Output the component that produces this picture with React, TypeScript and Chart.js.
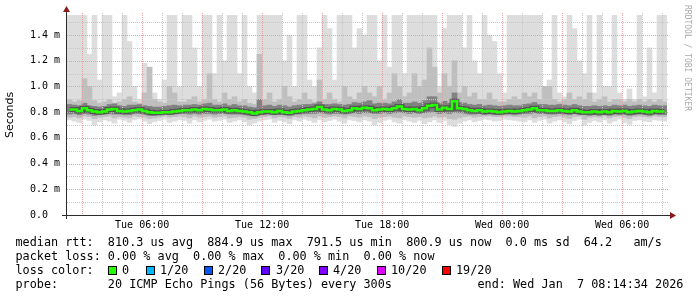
import React, { useEffect, useRef } from "react";
import { Chart, registerables } from "chart.js";
Chart.register(...registerables);

// ---- time axis (hours since Tue 00:00) ----
const START_H = 2 + 14 / 60 + 34 / 3600; // Tue 02:14:34
const END_H = 32 + 14 / 60 + 34 / 3600; // Wed 08:14:34
const STEP_H = 0.25;

const xTickHours = [6, 12, 18, 24, 30];
const xTickLabels = ["Tue 06:00", "Tue 12:00", "Tue 18:00", "Wed 00:00", "Wed 06:00"];
const yTickValues = [0, 200, 400, 600, 800, 1000, 1200, 1400];
const yTickLabels = ["0.0  ", "0.2 m", "0.4 m", "0.6 m", "0.8 m", "1.0 m", "1.2 m", "1.4 m"];

// ---- series values, microseconds ----
const T = 2000; // off-scale top
const maxRtt = [
  T, T, T, T, 1250, T, 1050, T, T, 920,
  950, T, 1350, 1000, 900, 1180, 1150, 950, 900, 1050,
  T, T, 1000, T, T, 1300, 1000, T, T, 1100,
  T, 1200, T, T, 1100, T, 1000, 950, T, T,
  T, T, T, 1200, 1400, 1000, T, T, 1050, 1000,
  1300, T, 1450, 1050, T, T, T, 1300, 1450, 1400,
  T, T, 1200, T, 1150, T, T, 1100, T, T,
  T, T, T, T, 1000, 1450, T, T, T, 1300,
  T, 1200, 1100, T, 1400, 1350, 1100, 950, T, T,
  T, T, T, T, T, 1000, 1050, T, 950, 920,
  T, 1450, 1200, 1100, T, 950, T, 1000, 1000, T,
  950, 900, 980, 900, T, 920, 1300, 950, T, T,
];
const minRtt = [
  740, 730, 720, 745, 735, 700, 725, 740, 730, 715, 745, 735, 720, 740, 750, 730, 710, 725, 735, 745, 720, 730, 740, 735, 715, 740, 725, 735, 745, 730,
  735, 745, 720, 730, 740, 725, 700, 715, 730, 740, 745, 720, 735, 725, 710, 740, 730, 745, 735, 720, 740, 725, 735, 745, 730, 715, 740, 735, 725, 740,
  730, 700, 720, 735, 745, 725, 715, 740, 730, 720, 735, 710, 725, 740, 720, 735, 700, 690, 715, 730, 740, 725, 735, 745, 740, 730, 735, 745, 740, 735,
  730, 725, 740, 720, 735, 745, 715, 730, 740, 725, 710, 735, 745, 700, 720, 735, 725, 740, 715, 730, 745, 720, 705, 735, 740, 730, 725, 740, 735, 730,
];
const lowRtt = [
  760, 765, 755, 770, 765, 750, 760, 765, 770, 755, 765, 760, 755, 770, 765, 760, 750, 755, 760, 770, 760, 765, 770, 765, 755, 770, 760, 765, 770, 760,
  765, 770, 755, 760, 765, 760, 745, 750, 760, 765, 770, 755, 765, 760, 750, 765, 760, 770, 765, 755, 770, 760, 765, 770, 765, 755, 770, 765, 760, 770,
  765, 750, 760, 765, 770, 760, 755, 770, 765, 760, 765, 755, 760, 770, 760, 765, 750, 745, 755, 765, 770, 760, 765, 770, 770, 765, 765, 770, 770, 765,
  765, 760, 770, 755, 765, 770, 755, 765, 770, 760, 750, 765, 770, 745, 760, 765, 760, 770, 755, 765, 770, 760, 750, 765, 770, 765, 760, 770, 765, 765,
];
const highRtt = [
  900, 880, 890, 1060, 1000, 890, 870, 880, 900, 870, 880, 900, 920, 880, 870, 950, 1150, 900, 880, 870, 1000, 950, 880, 880, 900, 920, 880, 900, 1100, 900,
  880, 950, 900, 920, 880, 900, 870, 860, 1250, 900, 950, 880, 900, 1000, 920, 880, 900, 950, 900, 880, 1050, 900, 950, 900, 880, 1000, 920, 900, 950, 1000,
  950, 920, 1000, 900, 950, 1100, 1000, 920, 950, 1100, 1000, 1050, 1300, 1150, 950, 1100, 1000, 1200, 950, 1000, 920, 950, 900, 900, 950, 900, 880, 880, 900, 920,
  900, 950, 920, 950, 900, 1000, 1000, 900, 880, 900, 950, 900, 920, 900, 950, 880, 900, 920, 880, 900, 900, 880, 900, 880, 900, 880, 900, 880, 900, 880,
];
const coreLowRtt = [
  785, 790, 780, 790, 785, 775, 780, 785, 790, 785, 785, 780, 780, 790, 790, 785, 775, 775, 780, 785, 780, 785, 790, 790, 785, 790, 785, 790, 790, 785,
  790, 790, 785, 785, 785, 780, 775, 770, 780, 780, 785, 780, 785, 780, 775, 785, 785, 790, 790, 790, 795, 790, 785, 790, 790, 785, 790, 795, 790, 795,
  795, 790, 790, 795, 790, 795, 800, 795, 790, 795, 790, 795, 800, 805, 790, 795, 790, 800, 795, 790, 785, 785, 790, 780, 785, 780, 780, 785, 785, 780,
  785, 790, 790, 795, 790, 790, 785, 785, 790, 785, 780, 790, 780, 780, 775, 780, 775, 780, 775, 785, 780, 785, 775, 780, 785, 780, 775, 785, 780, 780,
];
const coreHighRtt = [
  860, 855, 850, 870, 850, 845, 840, 845, 860, 865, 850, 845, 855, 855, 860, 850, 845, 840, 840, 845, 850, 855, 850, 855, 855, 860, 855, 865, 870, 855,
  855, 865, 850, 860, 850, 850, 840, 835, 900, 850, 855, 845, 855, 850, 840, 850, 855, 860, 860, 865, 880, 860, 860, 865, 860, 855, 860, 875, 870, 880,
  890, 865, 870, 870, 865, 880, 900, 870, 870, 880, 870, 890, 920, 920, 865, 885, 870, 950, 875, 870, 860, 855, 860, 850, 855, 850, 845, 850, 855, 850,
  850, 860, 865, 875, 860, 860, 855, 855, 860, 855, 850, 860, 850, 845, 845, 850, 845, 850, 845, 855, 850, 855, 845, 850, 855, 850, 845, 855, 850, 850,
];
const medianRtt = [
  820, 820, 810, 830, 815, 805, 800, 805, 820, 825, 810, 805, 810, 815, 820, 810, 800, 795, 795, 800, 800, 805, 810, 815, 815, 820, 815, 825, 820, 815,
  815, 820, 810, 815, 810, 805, 800, 790, 800, 805, 805, 800, 810, 800, 795, 805, 810, 815, 820, 825, 840, 820, 815, 825, 820, 810, 815, 830, 825, 835,
  830, 815, 820, 825, 820, 830, 845, 825, 820, 825, 815, 830, 850, 855, 820, 835, 825, 885, 830, 825, 815, 810, 815, 805, 810, 805, 800, 805, 810, 805,
  810, 815, 820, 830, 815, 815, 810, 810, 815, 810, 805, 815, 805, 800, 800, 805, 800, 805, 800, 810, 805, 810, 800, 805, 810, 805, 800, 810, 805, 805,
];

// ---- legend text ----
const statLines = [
  "median rtt:  810.3 us avg  884.9 us max  791.5 us min  800.9 us now  0.0 ms sd  64.2   am/s",
  "packet loss: 0.00 % avg  0.00 % max  0.00 % min  0.00 % now",
];
const lossTitle = "loss color:";
const lossLabels = ["0", "1/20", "2/20", "3/20", "4/20", "10/20", "19/20"];
const lossColors = ["#26ff00", "#00b8ff", "#0059ff", "#5e00ff", "#7e00ff", "#dd00ff", "#ff0000"];
const probeLine = "probe:       20 ICMP Echo Pings (56 Bytes) every 300s";
const endLine = "end: Wed Jan  7 08:14:34 2026";
const watermark = "RRDTOOL / TOBI OETIKER";
const yTitle = "Seconds";

// ---- layout (pixels) ----
const W = 697, H = 297;
const boxX = [108, 146, 204, 261, 319, 377, 442];
const boxTextX = [122, 160, 218, 276, 333, 391, 456];
const MONO = '"DejaVu Sans Mono", monospace';

const Y_MAX = 1556;

function drawGrid(chart: any) {
  const { ctx, chartArea: a, scales } = chart;
  const x = scales.x, y = scales.y;
  ctx.save();
  ctx.lineWidth = 1;
  ctx.setLineDash([1, 1]);
  for (let v = 100; v < Y_MAX; v += 100) {
    const py = Math.round(y.getPixelForValue(v)) + 0.5;
    ctx.strokeStyle = v % 200 === 0 ? "rgb(232,160,160)" : "rgb(200,200,200)";
    ctx.beginPath();
    ctx.moveTo(a.left, py);
    ctx.lineTo(a.right + 2, py);
    ctx.stroke();
  }
  for (let h = Math.ceil(START_H); h <= END_H; h += 1) {
    const px = Math.round(x.getPixelForValue(h)) + 0.5;
    ctx.strokeStyle = h % 3 === 0 ? "rgb(232,160,160)" : "rgb(200,200,200)";
    ctx.beginPath();
    ctx.moveTo(px, a.top - 2);
    ctx.lineTo(px, a.bottom);
    ctx.stroke();
  }
  ctx.restore();
}

const rrdPlugin = {
  id: "rrdDecor",
  beforeDatasetDraw(chart: any, args: any) {
    if (args.index === 1) drawGrid(chart);
  },
  afterDatasetsDraw(chart: any) {
    const { ctx, chartArea: a } = chart;
    ctx.save();
    ctx.setLineDash([]);
    ctx.strokeStyle = "#2c2c2c";
    ctx.lineWidth = 1;
    const by = a.bottom + 0.5;
    const lx = a.left - 0.5;
    ctx.beginPath();
    ctx.moveTo(a.left - 5, by);
    ctx.lineTo(a.right + 4, by);
    ctx.moveTo(lx, a.bottom + 4);
    ctx.lineTo(lx, a.top - 3);
    ctx.stroke();
    ctx.fillStyle = "#8b1a1a";
    ctx.beginPath();
    ctx.moveTo(a.right + 3, by - 3.5);
    ctx.lineTo(a.right + 9, by);
    ctx.lineTo(a.right + 3, by + 3.5);
    ctx.closePath();
    ctx.fill();
    ctx.beginPath();
    ctx.moveTo(lx - 3.5, a.top - 3);
    ctx.lineTo(lx, a.top - 9);
    ctx.lineTo(lx + 3.5, a.top - 3);
    ctx.closePath();
    ctx.fill();
    // watermark
    ctx.translate(687, 5);
    ctx.rotate(Math.PI / 2);
    ctx.font = `8px ${MONO}`;
    ctx.fillStyle = "#aaaaaa";
    ctx.textBaseline = "middle";
    ctx.textAlign = "left";
    ctx.fillText(watermark, 0, 0);
    ctx.restore();
  },
};

export default function App() {
  const ref = useRef<HTMLCanvasElement>(null);
  useEffect(() => {
    document.body.style.margin = "0";
    const times = medianRtt.map((_, i) => START_H + STEP_H * (i + 0.5));
    const band = (lo: number[], hi: number[], color: string, order: number) => ({
      type: "bar" as const,
      data: times.map((t, i) => ({ x: t, y: [lo[i], hi[i]] })),
      backgroundColor: color,
      borderWidth: 0,
      barPercentage: 1,
      categoryPercentage: 1,
      grouped: false,
      clip: 0,
      order,
    });
    const line = (color: string, width: number, order: number) => ({
      type: "line" as const,
      data: times.map((t, i) => ({ x: t, y: medianRtt[i] })),
      borderColor: color,
      borderWidth: width,
      pointRadius: 0,
      fill: false,
      stepped: "middle" as const,
      order,
    });
    const chart = new Chart(ref.current as HTMLCanvasElement, {
      type: "bar",
      data: {
        datasets: [
          line("#26ff00", 2.5, 0),
          line("rgba(50,50,50,0.55)", 5, 1),
          band(coreLowRtt, coreHighRtt, "#828282", 2),
          band(lowRtt, highRtt, "#bfbfbf", 3),
          band(minRtt, maxRtt, "#dddddd", 4),
        ] as any,
      },
      options: {
        responsive: false,
        maintainAspectRatio: false,
        devicePixelRatio: 1,
        animation: false,
        layout: { padding: { left: 0, right: 30, top: 15, bottom: 0 } },
        plugins: { legend: { display: false }, tooltip: { enabled: false } },
        scales: {
          x: {
            type: "linear",
            min: START_H,
            max: END_H,
            offset: false,
            afterFit: (s: any) => { s.height = 82; },
            afterBuildTicks: (s: any) => { s.ticks = xTickHours.map((v) => ({ value: v })); },
            grid: { display: false, drawTicks: false },
            border: { display: false },
            ticks: {
              autoSkip: false,
              maxRotation: 0,
              padding: 4,
              color: "#000",
              font: { family: MONO, size: 10 },
              callback: (_v: any, i: number) => xTickLabels[i],
            },
          },
          y: {
            min: 0,
            max: Y_MAX,
            afterFit: (s: any) => { s.width = 67; },
            afterBuildTicks: (s: any) => { s.ticks = yTickValues.map((v) => ({ value: v })); },
            grid: { display: false, drawTicks: false },
            border: { display: false },
            ticks: {
              padding: 7,
              color: "#000",
              font: { family: MONO, size: 10 },
              callback: (_v: any, i: number) => yTickLabels[i],
            },
            title: {
              display: true,
              text: yTitle,
              color: "#000",
              font: { family: '"DejaVu Sans", sans-serif', size: 11 },
              padding: { top: 4, bottom: 0 },
            },
          },
        },
      } as any,
      plugins: [rrdPlugin],
    });
    return () => chart.destroy();
  }, []);

  const textStyle: React.CSSProperties = {
    position: "absolute",
    fontFamily: MONO,
    fontSize: "11.8px",
    lineHeight: "14px",
    whiteSpace: "pre",
    color: "#000",
  };
  const rowTop = (r: number) => 235 + r * 14;

  return (
    <div style={{ position: "relative", width: W, height: H, background: "#fff", overflow: "hidden" }}>
      <canvas ref={ref} width={W} height={H} style={{ position: "absolute", left: 0, top: 0 }} />
      {statLines.map((s, i) => (
        <div key={i} style={{ ...textStyle, left: 15.5, top: rowTop(i) }}>{s}</div>
      ))}
      <div style={{ ...textStyle, left: 15.5, top: rowTop(2) }}>{lossTitle}</div>
      {lossLabels.map((l, i) => (
        <React.Fragment key={l}>
          <div
            style={{
              position: "absolute",
              left: boxX[i],
              top: rowTop(2) + 3,
              width: 7,
              height: 7,
              border: "1px solid #000",
              background: lossColors[i],
            }}
          />
          <div style={{ ...textStyle, left: boxTextX[i], top: rowTop(2) }}>{l}</div>
        </React.Fragment>
      ))}
      <div style={{ ...textStyle, left: 15.5, top: rowTop(3) }}>{probeLine}</div>
      <div style={{ ...textStyle, left: 477.5, top: rowTop(3) }}>{endLine}</div>
    </div>
  );
}
